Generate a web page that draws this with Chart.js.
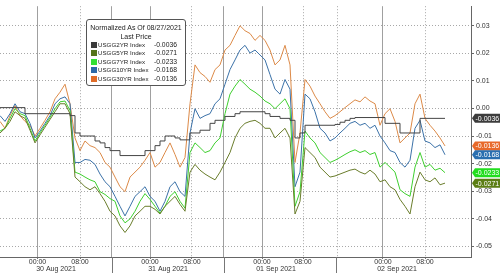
<!DOCTYPE html>
<html lang="en">
<head>
  <meta charset="UTF-8" />
  <title>USGG Normalized Yields</title>
  <script src="https://cdn.jsdelivr.net/npm/chart.js"></script>
  <style>
    body, html {
      margin: 0;
      padding: 0;
      background: #fff;
    }

    #wrap {
      position: relative;
      width: 500px;
      height: 273px;
    }

    #legend-box {
      position: absolute;
      left: 86px;
      top: 19px;
      width: 100px;
      height: 67px;
      box-sizing: border-box;
      border: 1px solid #555;
      border-radius: 3px;
      background: #fff;
      font-family: 'Liberation Sans', Arial, sans-serif;
      font-size: 7px;
      line-height: 8px;
      color: #222;
    }

    #legend-box .line {
      position: absolute;
      left: 0;
      right: 0;
      height: 8px;
      white-space: nowrap;
    }

    #legend-box .center { text-align: center; }
    #legend-box .sw { position: absolute; left: 4px; top: 1px; width: 6px; height: 6px; }
    #legend-box .name { position: absolute; left: 11px; font-size: 6.2px; }
    #legend-box .val { position: absolute; right: 8px; font-size: 6.8px; }
  </style>
</head>
<body>
  <div id="wrap">
    <canvas id="chart" width="500" height="273"></canvas>
    <div id="legend-box"></div>
  </div>

  <script>
    // series, one sample every ~5px of the time axis
    const names = ['USGG2YR Index', 'USGG5YR Index', 'USGG7YR Index', 'USGG10YR Index', 'USGG30YR Index'];
    const lastPrices = [-0.0036, -0.0271, -0.0233, -0.0168, -0.0136];

    const usgg2yr = [
      0.0003, 0.0003, 0.0003, 0.0003, 0.0003, -0.0019, -0.0019, -0.0019, -0.0019, -0.0019,
      -0.0019, -0.0019, -0.0019, -0.0019, -0.0026, -0.0089, -0.0100, -0.0100, -0.0100, -0.0118,
      -0.0125, -0.0142, -0.0153, -0.0153, -0.0171, -0.0171, -0.0171, -0.0171, -0.0171, -0.0153,
      -0.0153, -0.0135, -0.0118, -0.0100, -0.0100, -0.0107, -0.0114, -0.0114, -0.0089, -0.0089,
      -0.0079, -0.0079, -0.0054, -0.0043, -0.0043, -0.0029, -0.0029, -0.0019, -0.0012, -0.0012,
      -0.0012, -0.0012, -0.0012, -0.0019, -0.0029, -0.0029, -0.0036, -0.0036, -0.0043, -0.0107,
      -0.0089, -0.0061, -0.0061, -0.0061, -0.0061, -0.0061, -0.0061, -0.0058, -0.0050, -0.0043,
      -0.0036, -0.0033, -0.0033, -0.0033, -0.0033, -0.0033, -0.0033, -0.0054, -0.0054, -0.0054,
      -0.0089, -0.0089, -0.0089, -0.0089, -0.0036, -0.0036, -0.0036, -0.0036, -0.0036, -0.0036
    ];

    const usgg5yr = [
      -0.0089, -0.0072, -0.0047, -0.0012, -0.0026, -0.0036, -0.0079, -0.0125, -0.0096, -0.0068,
      -0.0040, -0.0012, 0.0017, 0.0017, -0.0019, -0.0249, -0.0266, -0.0284, -0.0295, -0.0284,
      -0.0309, -0.0337, -0.0373, -0.0390, -0.0426, -0.0450, -0.0426, -0.0390, -0.0373, -0.0355,
      -0.0355, -0.0366, -0.0383, -0.0355, -0.0337, -0.0319, -0.0348, -0.0373, -0.0231, -0.0203,
      -0.0224, -0.0238, -0.0249, -0.0259, -0.0231, -0.0196, -0.0160, -0.0107, -0.0072, -0.0054,
      -0.0047, -0.0043, -0.0054, -0.0072, -0.0072, -0.0107, -0.0089, -0.0072, -0.0107, -0.0383,
      -0.0337, -0.0142, -0.0160, -0.0178, -0.0213, -0.0231, -0.0249, -0.0245, -0.0238, -0.0231,
      -0.0224, -0.0220, -0.0231, -0.0238, -0.0224, -0.0238, -0.0266, -0.0259, -0.0284, -0.0295,
      -0.0330, -0.0355, -0.0383, -0.0284, -0.0231, -0.0259, -0.0266, -0.0252, -0.0277, -0.0271
    ];

    const usgg7yr = [
      -0.0082, -0.0072, -0.0036, -0.0001, -0.0019, -0.0026, -0.0072, -0.0118, -0.0089, -0.0061,
      -0.0033, -0.0001, 0.0024, 0.0027, -0.0008, -0.0231, -0.0238, -0.0249, -0.0259, -0.0266,
      -0.0302, -0.0312, -0.0327, -0.0337, -0.0390, -0.0415, -0.0401, -0.0373, -0.0337, -0.0309,
      -0.0330, -0.0355, -0.0380, -0.0355, -0.0319, -0.0302, -0.0337, -0.0362, -0.0160, -0.0125,
      -0.0142, -0.0160, -0.0153, -0.0125, -0.0107, -0.0019, 0.0052, 0.0081, 0.0105, 0.0088,
      0.0070, 0.0059, 0.0045, 0.0027, 0.0017, -0.0001, 0.0017, 0.0035, -0.0001, -0.0355,
      -0.0302, -0.0082, -0.0107, -0.0125, -0.0160, -0.0178, -0.0196, -0.0188, -0.0178, -0.0167,
      -0.0157, -0.0150, -0.0160, -0.0153, -0.0167, -0.0160, -0.0213, -0.0196, -0.0213, -0.0231,
      -0.0295, -0.0309, -0.0319, -0.0213, -0.0160, -0.0213, -0.0203, -0.0224, -0.0217, -0.0233
    ];

    const usgg10yr = [
      -0.0026, -0.0047, -0.0019, 0.0017, -0.0012, -0.0019, -0.0054, -0.0107, -0.0082, -0.0054,
      -0.0026, 0.0017, 0.0035, 0.0042, 0.0017, -0.0196, -0.0196, -0.0185, -0.0188, -0.0203,
      -0.0238, -0.0266, -0.0284, -0.0319, -0.0355, -0.0390, -0.0355, -0.0319, -0.0302, -0.0284,
      -0.0319, -0.0337, -0.0373, -0.0337, -0.0284, -0.0266, -0.0302, -0.0319, -0.0089, -0.0001,
      -0.0036, -0.0026, -0.0019, 0.0017, 0.0035, 0.0088, 0.0141, 0.0176, 0.0212, 0.0229,
      0.0201, 0.0212, 0.0194, 0.0176, 0.0123, 0.0070, 0.0052, 0.0105, 0.0070, -0.0284,
      -0.0231, 0.0052, 0.0035, -0.0012, -0.0072, -0.0089, -0.0118, -0.0107, -0.0089, -0.0072,
      -0.0054, -0.0047, -0.0061, -0.0054, -0.0072, -0.0061, -0.0100, -0.0125, -0.0153, -0.0160,
      -0.0196, -0.0213, -0.0188, -0.0072, -0.0043, -0.0118, -0.0125, -0.0142, -0.0132, -0.0168
    ];

    const usgg30yr = [
      -0.0047, -0.0072, -0.0026, 0.0010, -0.0026, -0.0047, -0.0061, -0.0100, -0.0072, -0.0043,
      -0.0012, 0.0035, 0.0059, 0.0088, 0.0017, -0.0107, -0.0153, -0.0118, -0.0135, -0.0142,
      -0.0160, -0.0196, -0.0213, -0.0249, -0.0284, -0.0302, -0.0249, -0.0231, -0.0213, -0.0188,
      -0.0160, -0.0213, -0.0196, -0.0160, -0.0125, -0.0167, -0.0213, -0.0178, 0.0017, 0.0158,
      0.0130, 0.0116, 0.0095, 0.0141, 0.0158, 0.0212, 0.0229, 0.0265, 0.0300, 0.0282,
      0.0272, 0.0247, 0.0265, 0.0247, 0.0212, 0.0158, 0.0176, 0.0229, 0.0158, -0.0196,
      -0.0089, 0.0105, 0.0081, 0.0045, 0.0017, -0.0012, -0.0036, -0.0026, -0.0012, 0.0003,
      0.0017, 0.0031, 0.0024, 0.0042, 0.0027, 0.0017, -0.0061, -0.0019, -0.0001, -0.0047,
      -0.0125, -0.0107, -0.0089, 0.0017, 0.0052, -0.0036, -0.0061, -0.0082, -0.0107, -0.0136
    ];

    // time axis (in sample slots)
    const timeTickPos = [7.5, 16, 30, 38.4, 52.4, 60.6, 76.6, 85];
    const timeTickText = ['00:00', '08:00', '00:00', '08:00', '00:00', '08:00', '00:00', '08:00'];
    const dateTickPos = [11.2, 33.6, 55.2, 79.4];
    const dateTickText = ['30 Aug 2021', '31 Aug 2021', '01 Sep 2021', '02 Sep 2021'];
    const dottedGridPos = [16, 38.4, 60.6, 67.4, 85];
    const solidGridPos = [7.4, 22.4, 30, 44.6, 52.4, 76.6];
    const daySeparatorPos = [22.4, 44.8, 67.2];
    const yTicks = [-0.05, -0.04, -0.03, -0.02, -0.01, 0, 0.01, 0.02, 0.03];

    const lineColors = ['#454545', '#6a7d2c', '#3fcf2f', '#3c72a8', '#dc8a48'];
    const badgeColors = ['#3c3c3c', '#5b7d14', '#22dd1e', '#2a6fb0', '#e8692a'];
    const swatchColors = ['#3a3a3a', '#56731a', '#33e033', '#2c6aa8', '#e06c28'];

    const seriesList = [usgg2yr, usgg5yr, usgg7yr, usgg10yr, usgg30yr];

    // legend box
    const legendBox = document.getElementById('legend-box');
    let html = '<div class="line center" style="top:4px">Normalized As Of 08/27/2021</div>';
    html += '<div class="line center" style="top:13px">Last Price</div>';
    const rowTops = [21, 29, 38, 46, 55];
    names.forEach((n, i) => {
      html += `<div class="line" style="top:${rowTops[i]}px">` +
        `<span class="sw" style="background:${swatchColors[i]}"></span>` +
        `<span class="name">${n}</span><span class="val">${lastPrices[i].toFixed(4)}</span></div>`;
    });
    legendBox.innerHTML = html;

    Chart.defaults.font.family = "'Liberation Sans', Arial, sans-serif";
    Chart.defaults.font.size = 7;
    Chart.defaults.color = '#333';

    const timeLabel = {};
    timeTickPos.forEach((p, i) => { timeLabel[p] = [timeTickText[i], '']; });
    dateTickPos.forEach((p, i) => { timeLabel[p] = ['', dateTickText[i]]; });
    const allXTicks = [...new Set([...timeTickPos, ...dateTickPos, ...dottedGridPos])].sort((a, b) => a - b);

    // value tags on the right edge + day separators under the axis
    const extrasPlugin = {
      id: 'extras',
      afterDraw(chart) {
        const { ctx, chartArea, scales } = chart;
        ctx.save();
        ctx.strokeStyle = '#777';
        ctx.lineWidth = 1;
        daySeparatorPos.forEach(p => {
          const x = Math.round(scales.x.getPixelForValue(p)) + 0.5;
          ctx.beginPath();
          ctx.moveTo(x, chartArea.bottom);
          ctx.lineTo(x, chart.height);
          ctx.stroke();
        });

        const order = [0, 4, 3, 2, 1];
        order.forEach(i => {
          const y = scales.y.getPixelForValue(lastPrices[i]);
          const x0 = chartArea.right + 1;
          const h = 4.5;
          ctx.fillStyle = badgeColors[i];
          ctx.beginPath();
          ctx.moveTo(x0, y);
          ctx.lineTo(x0 + 3, y - h);
          ctx.lineTo(chart.width, y - h);
          ctx.lineTo(chart.width, y + h);
          ctx.lineTo(x0 + 3, y + h);
          ctx.closePath();
          ctx.fill();
          ctx.fillStyle = '#fff';
          ctx.font = "7px 'Liberation Sans', Arial, sans-serif";
          ctx.textBaseline = 'middle';
          ctx.textAlign = 'left';
          ctx.fillText(lastPrices[i].toFixed(4), x0 + 3.5, y + 0.5);
        });
        ctx.restore();
      }
    };

    new Chart(document.getElementById('chart'), {
      type: 'line',
      data: {
        datasets: seriesList.map((s, i) => ({
          label: names[i],
          data: s.map((v, k) => ({ x: k, y: v })),
          borderColor: lineColors[i],
          borderWidth: 1,
          pointRadius: 0,
          tension: 0,
          stepped: i === 0
        }))
      },
      options: {
        responsive: false,
        animation: false,
        devicePixelRatio: 1,
        layout: { padding: 0 },
        plugins: {
          legend: { display: false },
          tooltip: { enabled: false }
        },
        scales: {
          x: {
            type: 'linear',
            position: 'bottom',
            min: 0,
            max: 94.2,
            afterBuildTicks: (scale) => { scale.ticks = allXTicks.map(v => ({ value: v })); },
            afterFit: (scale) => { scale.height = 16; },
            ticks: {
              autoSkip: false,
              maxRotation: 0,
              minRotation: 0,
              padding: 0,
              color: '#333',
              font: { size: 7, lineHeight: 1 },
              callback: (v) => timeLabel[v] || ''
            },
            grid: {
              color: (c) => (c.tick && dottedGridPos.includes(c.tick.value)) ? '#a8a8a8' : 'rgba(0,0,0,0)',
              tickColor: (c) => (c.tick && timeTickPos.includes(c.tick.value)) ? '#777' : 'rgba(0,0,0,0)',
              tickLength: 2,
              lineWidth: 1
            },
            border: { display: true, color: '#666', dash: [1, 2] }
          },
          xSolid: {
            type: 'linear',
            position: 'bottom',
            min: 0,
            max: 94.2,
            afterBuildTicks: (scale) => { scale.ticks = solidGridPos.map(v => ({ value: v })); },
            afterFit: (scale) => { scale.height = 0; },
            ticks: { display: false },
            grid: { color: '#a0a0a0', drawTicks: false, lineWidth: 1 },
            border: { display: false }
          },
          y: {
            type: 'linear',
            position: 'right',
            min: -0.0539,
            max: 0.0371,
            afterBuildTicks: (scale) => { scale.ticks = yTicks.map(v => ({ value: v })); },
            afterFit: (scale) => { scale.width = 29; },
            ticks: {
              padding: 2,
              color: '#333',
              font: { size: 7 },
              callback: (v) => v.toFixed(2)
            },
            grid: {
              color: '#a8a8a8',
              tickColor: '#666',
              tickLength: 3,
              lineWidth: 1
            },
            border: { display: true, color: '#666', dash: [1, 2] }
          }
        }
      },
      plugins: [extrasPlugin]
    });
  </script>
</body>
</html>
